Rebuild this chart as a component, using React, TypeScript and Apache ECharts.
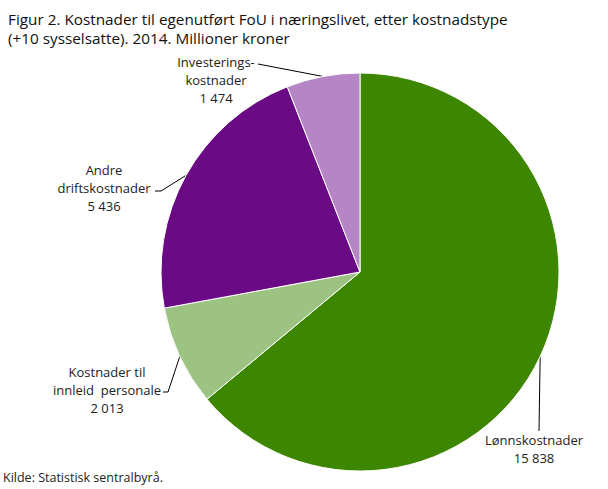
import React, { useEffect, useRef } from "react";
import * as echarts from "echarts";

const categories = [
  "Lønnskostnader",
  "Kostnader til\ninnleid  personale",
  "Andre\ndriftskostnader",
  "Investerings-\nkostnader",
];
const values = [15838, 2013, 5436, 1474];
const colors = ["#3d8600", "#9dc383", "#6a0a84", "#b585c5"];
const titleText =
  "Figur 2. Kostnader til egenutført FoU i næringslivet, etter kostnadstype\n(+10 sysselsatte). 2014. Millioner kroner";
const sourceText = "Kilde: Statistisk sentralbyrå.";

// label placement (center of text block) and label-line bend/end points
const labelPos: { x: number; y: number; pts: number[][] }[] = [
  { x: 534, y: 449, pts: [[539, 431]] },
  { x: 107, y: 390, pts: [[168, 392], [163, 392]] },
  { x: 104, y: 188, pts: [[161, 191], [155, 191]] },
  { x: 216, y: 80, pts: [[258, 64]] },
];

const fmt = (v: number) => String(v).replace(/\B(?=(\d{3})+(?!\d))/g, " ");

export default function App() {
  const ref = useRef<HTMLDivElement>(null);
  useEffect(() => {
    document.body.style.margin = "0";
    const chart = echarts.init(ref.current!, null, { renderer: "svg" });
    chart.setOption({
      animation: false,
      backgroundColor: "#ffffff",
      title: {
        text: titleText,
        left: 3,
        top: 4,
        textStyle: {
          fontFamily: "Open Sans",
          fontSize: 15.3,
          fontWeight: 500,
          color: "#111",
          lineHeight: 19,
        },
      },
      graphic: [
        {
          type: "text",
          left: 3,
          top: 471,
          style: {
            text: sourceText,
            fontFamily: "Open Sans",
            fontSize: 12.5,
            fill: "#222",
          },
        },
      ],
      series: [
        {
          type: "pie",
          center: [360, 272],
          radius: [0, 199],
          startAngle: 90,
          clockwise: true,
          avoidLabelOverlap: false,
          itemStyle: { borderColor: "#ffffff", borderWidth: 1 },
          label: {
            show: true,
            position: "outside",
            formatter: (p: any) => `${p.name}\n${fmt(p.value)}`,
            fontFamily: "Open Sans",
            fontSize: 13,
            color: "#222",
            lineHeight: 18,
            align: "center",
          },
          labelLine: {
            show: true,
            lineStyle: { color: "#000", width: 1 },
          },
          labelLayout: (params: any) => {
            const lp = labelPos[params.dataIndex];
            const start = params.labelLinePoints
              ? params.labelLinePoints[0]
              : [0, 0];
            return {
              x: lp.x,
              y: lp.y,
              align: "center",
              verticalAlign: "middle",
              labelLinePoints: [start, ...lp.pts],
            };
          },
          emphasis: { disabled: true },
          data: categories.map((c, i) => ({
            name: c,
            value: values[i],
            itemStyle: { color: colors[i] },
          })),
        },
      ],
    });
    return () => chart.dispose();
  }, []);
  return <div ref={ref} style={{ width: 608, height: 489 }} />;
}
